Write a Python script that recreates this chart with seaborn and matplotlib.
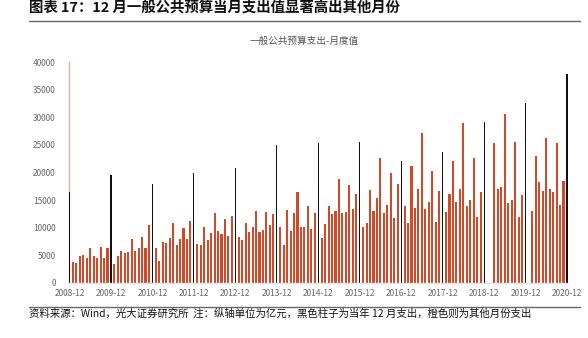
import numpy as np
import pandas as pd
import matplotlib
matplotlib.use("Agg")
import matplotlib.pyplot as plt
from matplotlib.lines import Line2D
import seaborn as sns

# ---- data (亿元) ----
years = list(range(2009, 2021))
dec_years = list(range(2008, 2021))
dec_values = [16500, 19500, 17900, 19900, 20800, 25000, 25300, 25500, 22000, 23700, 29100, 32500, 37800]
v2009 = [3850, 3700, 4900, 5000, 4500, 6300, 4900, 4600, 6500, 4600, 6300]
v2010 = [3400, 4900, 5800, 5500, 5700, 8000, 5800, 6300, 8400, 6400, 10500]
v2011 = [6400, 4000, 7500, 7300, 8200, 10800, 6900, 8000, 9900, 8000, 11300]
v2012 = [7000, 6800, 10100, 7800, 9100, 12700, 9500, 8900, 11600, 8500, 12100]
v2013 = [8300, 7700, 10900, 9200, 10200, 13100, 9200, 9600, 12900, 10500, 12500]
v2014 = [10100, 6800, 13300, 9400, 12700, 16500, 10100, 10100, 14000, 9800, 12700]
v2015 = [8100, 10700, 13900, 12400, 13100, 18800, 12700, 12800, 17800, 13400, 16100]
v2016 = [10100, 10900, 16800, 13100, 15400, 22600, 12700, 14100, 19900, 11800, 18000]
v2017 = [13900, 10900, 21100, 13600, 17000, 27100, 13400, 14600, 20300, 11000, 16600]
v2018 = [12900, 16100, 22000, 14700, 17000, 29000, 13900, 15100, 22600, 12000, 16500]
v2019 = [None, None, 25300, 17000, 17400, 30600, 14400, 15000, 25600, 11900, 15900]
v2020 = [None, 13000, 23000, 18300, 16700, 26200, 17100, 16400, 25300, 14200, 18400]
monthly = [v2009, v2010, v2011, v2012, v2013, v2014, v2015, v2016, v2017, v2018, v2019, v2020]
yticks = [0, 5000, 10000, 15000, 20000, 25000, 30000, 35000, 40000]

# ---- build table ----
rows = [{"month": "2008-12", "value": dec_values[0], "kind": "dec"}]
for y, vals, dv in zip(years, monthly, dec_values[1:]):
    for m, v in enumerate(vals, start=1):
        rows.append({"month": f"{y}-{m:02d}", "value": np.nan if v is None else v, "kind": "other"})
    rows.append({"month": f"{y}-12", "value": dv, "kind": "dec"})
df = pd.DataFrame(rows)
order = list(df["month"])

sns.set_theme(style="white")
plt.rcParams["font.family"] = ["Noto Sans CJK SC", "DejaVu Sans"]
plt.rcParams["axes.unicode_minus"] = False

fig = plt.figure(figsize=(5.88, 3.38), dpi=100)
ax = fig.add_axes([69 / 588, 1 - 283 / 338, (568 - 69) / 588, (283 - 62) / 338])

orange = "#D04A2A"
black = "#111111"
sns.barplot(data=df.dropna(), x="month", y="value", order=order, hue="kind",
            hue_order=["other", "dec"], palette={"other": orange, "dec": black},
            dodge=False, width=0.6, saturation=1, ax=ax, errorbar=None, legend=False)

# December bars are drawn thinner than the others
for p in ax.patches:
    fc = p.get_facecolor()
    if fc[0] < 0.2 and fc[1] < 0.2 and fc[2] < 0.2:
        cx = p.get_x() + p.get_width() / 2
        p.set_width(0.32)
        p.set_x(cx - 0.16)
    p.set_linewidth(0)

ax.set_xlim(-0.15, 144.3)
ax.set_ylim(0, 40000)
ax.set_xlabel("")
ax.set_ylabel("")
tick_pos = [order.index(f"{y}-12") for y in dec_years]
ax.set_xticks(tick_pos)
ax.set_xticklabels([f"{y}-12" for y in dec_years], fontsize=6, color="#666666")
ax.set_yticks(yticks)
ax.set_yticklabels([str(t) for t in yticks], fontsize=6, color="#666666")
ax.tick_params(axis="x", length=0, pad=4.5)
ax.tick_params(axis="y", length=3, width=0.8, direction="inout", color="#E07A64", pad=8)

for s in ["top", "right"]:
    ax.spines[s].set_visible(False)
ax.spines["left"].set_color("#EDA696")
ax.spines["left"].set_linewidth(1.0)
ax.spines["left"].set_zorder(0.5)
ax.spines["bottom"].set_color("#E2E2E2")
ax.spines["bottom"].set_linewidth(1.0)
ax.grid(False)

# texts & rules
fig.text(29 / 588, 1 - 8 / 338, "图表 17：12 月一般公共预算当月支出值显著高出其他月份",
         fontsize=10.4, fontweight="bold", color="#111111", va="center", ha="left")
fig.add_artist(Line2D([29 / 588, 580 / 588], [1 - 20.7 / 338] * 2, color="#666666", lw=1.0))
fig.text(304 / 588, 1 - 40.7 / 338, "一般公共预算支出-月度值", fontsize=6.9, color="#555555",
         va="center", ha="center")
fig.add_artist(Line2D([29 / 588, 580 / 588], [1 - 306.7 / 338] * 2, color="#666666", lw=1.0))
fig.text(29 / 588, 1 - 314 / 338,
         "资料来源：Wind，光大证券研究所  注：纵轴单位为亿元，黑色柱子为当年 12 月支出，橙色则为其他月份支出",
         fontsize=7.5, color="#111111", va="center", ha="left")

fig.savefig("out.png", dpi=100)
